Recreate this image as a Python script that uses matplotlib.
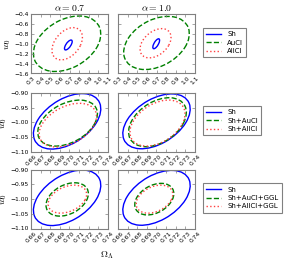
import numpy as np
import matplotlib
matplotlib.use("Agg")
import matplotlib.pyplot as plt
from matplotlib.patches import Ellipse

plt.rcParams['mathtext.fontset'] = 'cm'

# ellipse parameters: [centre x, centre y, half-width x, half-height y, correlation]
alphas = ['0.7', '1.0']

row1_a07 = [[0.688, -1.025, 0.040, 0.100, 0.7],
            [0.675, -1.000, 0.350, 0.560, 0.35],
            [0.676, -1.000, 0.158, 0.325, 0.4]]
row1_a10 = [[0.697, -1.000, 0.035, 0.100, 0.7],
            [0.700, -0.984, 0.341, 0.536, 0.35],
            [0.690, -0.990, 0.161, 0.295, 0.4]]
row2_a07 = [[0.6975, -0.996, 0.0350, 0.094, 0.45],
            [0.6980, -1.002, 0.0310, 0.078, 0.4],
            [0.6983, -1.009, 0.0298, 0.074, 0.4]]
row2_a10 = [[0.7000, -0.996, 0.0350, 0.093, 0.45],
            [0.7010, -0.999, 0.0300, 0.083, 0.4],
            [0.7010, -1.002, 0.0286, 0.078, 0.4]]
row3_a07 = [[0.6975, -0.996, 0.0350, 0.094, 0.45],
            [0.6976, -1.0015, 0.0220, 0.0565, 0.35],
            [0.6978, -1.0005, 0.0200, 0.0475, 0.35]]
row3_a10 = [[0.7000, -0.996, 0.0350, 0.093, 0.45],
            [0.6977, -1.0005, 0.0203, 0.0535, 0.35],
            [0.6979, -1.0005, 0.0190, 0.0475, 0.35]]

labels1 = ['Sh', 'AuCl', 'AllCl']
labels2 = ['Sh', 'Sh+AuCl', 'Sh+AllCl']
labels3 = ['Sh', 'Sh+AuCl+GGL', 'Sh+AllCl+GGL']

xticks_wide = [0.3, 0.4, 0.5, 0.6, 0.7, 0.8, 0.9, 1.0, 1.1]
yticks_wide = [-0.4, -0.6, -0.8, -1.0, -1.2, -1.4, -1.6]
xticks_zoom = [0.66, 0.67, 0.68, 0.69, 0.70, 0.71, 0.72, 0.73, 0.74]
yticks_zoom = [-0.90, -0.95, -1.00, -1.05, -1.10]

colors = ['b', 'g', '#ff4040']
styles = ['-', '--', ':']

rows = [(row1_a07, row1_a10, labels1, xticks_wide, yticks_wide, '%.1f', '%.1f'),
        (row2_a07, row2_a10, labels2, xticks_zoom, yticks_zoom, '%.2f', '%.2f'),
        (row3_a07, row3_a10, labels3, xticks_zoom, yticks_zoom, '%.2f', '%.2f')]

fig = plt.figure(figsize=(2.87, 2.64), dpi=100)
W, H = 287., 264.
col_x = [31, 118]
col_w = 77
row_y = [(14, 73.5), (93, 152), (169.5, 228.5)]
leg_top = [0.77, 0.785, 0.77]


def add_ellipse(ax, p, color, ls, label):
    cx, cy, sx, sy, rho = p
    cov = np.array([[sx**2, rho*sx*sy], [rho*sx*sy, sy**2]])
    vals, vecs = np.linalg.eigh(cov)
    ang = np.degrees(np.arctan2(vecs[1, 1], vecs[0, 1]))
    e = Ellipse((cx, cy), 2*np.sqrt(vals[1]), 2*np.sqrt(vals[0]), angle=ang,
                fill=False, edgecolor=color, linestyle=ls, lw=1.0)
    ax.add_patch(e)
    ax.plot([], [], color=color, ls=ls, lw=1.0, label=label)


for r, (pa, pb, labs, xt, yt, xf, yf) in enumerate(rows):
    y0, y1 = row_y[r]
    for c, params in enumerate([pa, pb]):
        ax = fig.add_axes([col_x[c]/W, 1 - y1/H, col_w/W, (y1 - y0)/H])
        for p, col, ls, lab in zip(params, colors, styles, labs):
            add_ellipse(ax, p, col, ls, lab)
        ax.set_xlim(xt[0], xt[-1])
        ax.set_ylim(yt[-1], yt[0])
        ax.set_xticks(xt)
        ax.set_xticklabels([xf % v for v in xt], rotation=45, fontsize=4.3)
        ax.set_yticks(yt)
        if c == 0:
            ax.set_yticklabels([(yf % v).replace('-', '\u2212') for v in yt], fontsize=4.3)
            ax.set_ylabel(r'$w_0$', fontsize=7, labelpad=1)
        else:
            ax.set_yticklabels([])
        ax.tick_params(direction='in', length=2, width=0.5, color='0.5', pad=1.5,
                       top=True, right=True)
        for s in ax.spines.values():
            s.set_color('0.5')
            s.set_linewidth(0.8)
        if r == 0:
            ax.set_title(r'$\alpha=%s$' % alphas[c], fontsize=7, pad=2)
        if c == 1:
            leg = ax.legend(loc='upper left', bbox_to_anchor=(1.10, leg_top[r]),
                            borderaxespad=0, fontsize=5, handlelength=2.2,
                            fancybox=False, framealpha=1, borderpad=0.5,
                            labelspacing=0.35, handletextpad=0.8)
            leg.get_frame().set_edgecolor('0.5')
            leg.get_frame().set_linewidth(0.8)

fig.text(107/W, 1 - 255/H, r'$\Omega_\Lambda$', fontsize=7, ha='center', va='center')

fig.savefig('out.png', dpi=100)
